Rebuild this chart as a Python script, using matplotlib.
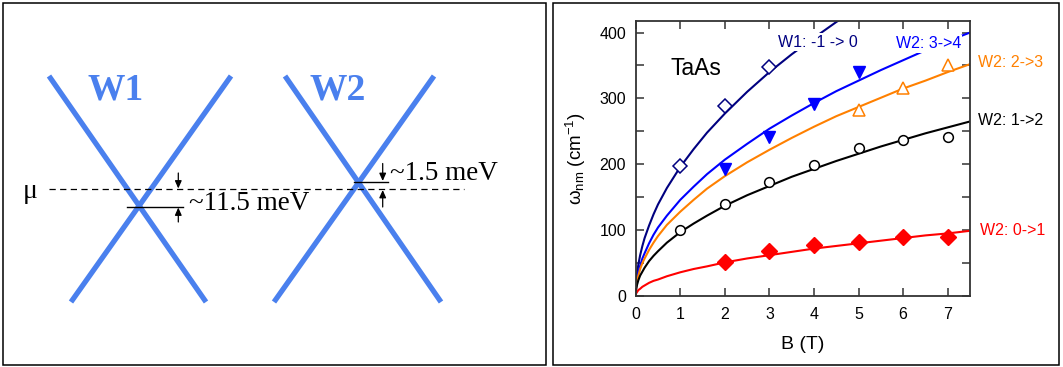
import matplotlib
matplotlib.use("Agg")
import matplotlib.pyplot as plt
import matplotlib.ticker as ticker
from matplotlib.patches import Rectangle
import numpy as np

###########################################################################
# data: right panel (Landau level transitions in TaAs)

w1_m10_B = [1, 2, 3]
w1_m10 = [198, 289, 348]

w2_34_B = [2, 3, 4, 5]
w2_34 = [193, 242, 291, 340]

w2_23_B = [5, 6, 7]
w2_23 = [283, 316, 350]

w2_12_B = [1, 2, 3, 4, 5, 6, 7]
w2_12 = [100, 139, 173, 199, 224, 237, 242]

w2_01_B = [2, 3, 4, 5, 6, 7]
w2_01 = [51, 69, 77, 82, 89, 90]

# fit curves
fit_B = [0, 0.01, 0.03, 0.06, 0.1, 0.15, 0.2, 0.3, 0.4, 0.5, 0.7, 1.0, 1.3,
         1.6, 2.0, 2.5, 3.0, 3.5, 4.0, 4.5, 5.0, 5.5, 6.0, 6.5, 7.0, 7.5]
fit_w1_m10 = [0, 20, 34, 48, 62, 76, 88, 107, 124, 139, 164, 196, 223,
              248, 277, 310, 340, 367, 392, 416, 438, 459, 480, 500, 519, 537]
fit_w2_34 = [0, 15, 25, 36, 46, 57, 65, 80, 93, 104, 122, 146, 166,
             185, 207, 231, 254, 274, 293, 311, 327, 343, 358, 373, 387, 400]
fit_w2_23 = [0, 13, 22, 31, 41, 50, 57, 70, 81, 91, 108, 128, 146,
             163, 182, 203, 222, 240, 257, 273, 287, 301, 315, 327, 340, 352]
fit_w2_12 = [0, 10, 17, 24, 31, 37, 43, 53, 61, 68, 81, 97, 110,
             122, 137, 153, 167, 181, 193, 205, 216, 227, 237, 247, 256, 265]
fit_w2_01 = [0, 4, 6, 9, 11, 14, 16, 20, 23, 25, 30, 36, 41,
             45, 51, 57, 62, 67, 72, 76, 80, 84, 88, 92, 95, 99]

# data: left panel schematic (pixel coordinates of the drawing)
cone_x = [[49, 206], [231, 71], [285, 441], [434, 274]]
cone_y = [[76, 302], [76, 302], [76, 302], [76, 302]]
mu_x = [49, 464]
mu_y = 189.3

###########################################################################

plt.rcParams['font.family'] = ['Liberation Sans', 'DejaVu Sans']
plt.rcParams['mathtext.fontset'] = 'custom'
plt.rcParams['mathtext.rm'] = 'Liberation Sans'
plt.rcParams['mathtext.it'] = 'Liberation Sans'

W, H = 1063, 367
fig = plt.figure(figsize=(W / 100, H / 100), dpi=100)

# background axes in pixel units for frames + schematic
bg = fig.add_axes([0, 0, 1, 1])
bg.set_xlim(0, W)
bg.set_ylim(H, 0)
bg.axis('off')

bg.add_patch(Rectangle((3, 3), 543, 362, fill=False, ec='black', lw=1.1))
bg.add_patch(Rectangle((553, 3), 506, 362, fill=False, ec='black', lw=1.1))

cone_col = '#4a80ee'
for xs, ys in zip(cone_x, cone_y):
    bg.plot(xs, ys, color=cone_col, lw=3.8, solid_capstyle='butt')

bg.plot(mu_x, [mu_y, mu_y], color='black', lw=0.9, ls=(0, (5, 3.5)))

serif = 'Liberation Serif'
bg.text(23, 192, 'μ', family=serif, fontsize=20, ha='left', va='center')
bg.text(88, 90, 'W1', family=serif, fontsize=27, fontweight='bold',
        color=cone_col, ha='left', va='center')
bg.text(309, 90, 'W2', family=serif, fontsize=27, fontweight='bold',
        color=cone_col, ha='left', va='center')

# energy offset markers
bg.plot([126.7, 182.7], [206.7, 206.7], color='black', lw=1.0)
bg.plot([354.3, 388.3], [181.7, 181.7], color='black', lw=1.0)
arrow_kw = dict(arrowstyle='-|>,head_length=0.45,head_width=0.2',
                color='black', lw=0.9, shrinkA=0, shrinkB=0)
bg.annotate('', xy=(178.3, 188.5), xytext=(178.3, 173), arrowprops=arrow_kw)
bg.annotate('', xy=(178.3, 207.5), xytext=(178.3, 222), arrowprops=arrow_kw)
bg.annotate('', xy=(382.7, 181), xytext=(382.7, 163.5), arrowprops=arrow_kw)
bg.annotate('', xy=(382.7, 190), xytext=(382.7, 207), arrowprops=arrow_kw)

bg.text(189, 203, '~11.5 meV', family=serif, fontsize=19.5,
        ha='left', va='center')
bg.text(390, 173, '~1.5 meV', family=serif, fontsize=19.5,
        ha='left', va='center')

###########################################################################
# right panel plot

ax = fig.add_axes([635.7 / W, 71 / H, 334.3 / W, 275.3 / H])

navy = '#000080'
blue = '#0000ff'
orange = '#ff8000'
red = '#ff0000'

ax.plot(fit_B, fit_w1_m10, color=navy, lw=1.5, zorder=2)
ax.plot(fit_B, fit_w2_34, color=blue, lw=1.5, zorder=2)
ax.plot(fit_B, fit_w2_23, color=orange, lw=1.5, zorder=2)
ax.plot(fit_B, fit_w2_12, color='black', lw=1.5, zorder=2)
ax.plot(fit_B, fit_w2_01, color=red, lw=1.5, zorder=2)

ax.plot(w1_m10_B, w1_m10, ls='none', marker='D', ms=7, mfc='white',
        mec=navy, mew=1.1, zorder=3)
ax.plot(w2_34_B, w2_34, ls='none', marker='v', ms=8.5, mfc=blue,
        mec=blue, zorder=3)
ax.plot(w2_23_B, w2_23, ls='none', marker='^', ms=8.5, mfc='white',
        mec=orange, mew=1.1, zorder=3)
ax.plot(w2_12_B, w2_12, ls='none', marker='o', ms=7, mfc='white',
        mec='black', mew=1.1, zorder=3)
ax.plot(w2_01_B, w2_01, ls='none', marker='D', ms=8, mfc=red,
        mec=red, zorder=3)

ax.set_xlim(0, 7.5)
ax.set_ylim(0, 418)
ax.set_xticks(range(0, 8))
ax.set_yticks([0, 100, 200, 300, 400])
ax.yaxis.set_minor_locator(ticker.MultipleLocator(50))
ax.tick_params(which='both', direction='in', top=True, right=True,
               labelsize=11.5, width=1.1, color='#333333')
ax.tick_params(which='major', length=6)
ax.tick_params(which='minor', length=6)
ax.tick_params(axis='x', pad=8)
ax.tick_params(axis='y', pad=7)
for sp in ax.spines.values():
    sp.set_linewidth(1.3)
    sp.set_color('#333333')

ax.set_xlabel('B (T)', fontsize=14, labelpad=10)
ax.set_ylabel(r'$\mathrm{\omega_{nm}}$ (cm$^{\mathrm{-1}}$)', fontsize=13.5,
              labelpad=8)

box = dict(facecolor='white', edgecolor='none', pad=1)
ax.text(0.77, 346, 'TaAs', fontsize=16.5, ha='left', va='center')
ax.text(3.19, 385, 'W1: -1 -> 0', fontsize=11.5, color=navy,
        ha='left', va='center', bbox=box, zorder=4)
ax.text(5.83, 383, 'W2: 3->4', fontsize=11.5, color=blue,
        ha='left', va='center', bbox=box, zorder=4)
ax.text(7.68, 355, 'W2: 2->3', fontsize=11.5, color=orange,
        ha='left', va='center', clip_on=False)
ax.text(7.68, 266, 'W2: 1->2', fontsize=11.5, color='black',
        ha='left', va='center', clip_on=False)
ax.text(7.72, 100, 'W2: 0->1', fontsize=11.5, color=red,
        ha='left', va='center', clip_on=False)

fig.savefig('out.png', dpi=100)
